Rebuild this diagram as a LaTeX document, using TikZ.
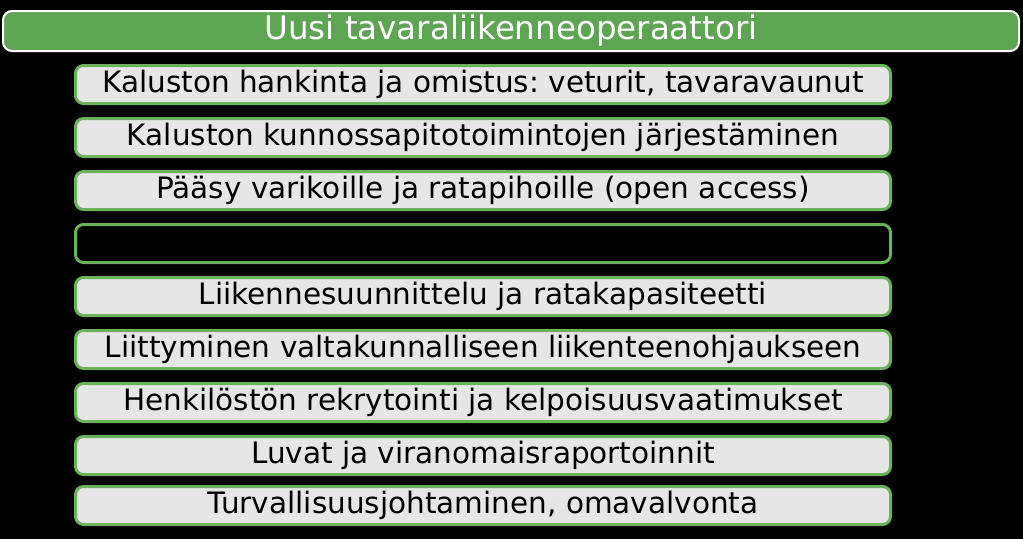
\documentclass[tikz,border=0pt]{standalone}
\usepackage{fontspec}
\setmainfont{DejaVu Sans}
\frenchspacing
\definecolor{bargreen}{RGB}{94,165,83}
\definecolor{edgegreen}{RGB}{106,178,92}
\definecolor{boxgray}{RGB}{230,230,230}
\tikzset{
  topbar/.style={draw=white, line width=2pt, fill=bargreen, rounded corners=9pt,
    minimum width=1016pt, minimum height=40pt, inner sep=0pt, text=white,
    font=\fontsize{32.5}{36}\selectfont},
  itembox/.style={draw=edgegreen, line width=3pt, fill=boxgray, rounded corners=8pt,
    minimum width=815pt, minimum height=38pt, inner sep=0pt, text=black,
    font=\fontsize{29.5}{34}\selectfont},
  emptybox/.style={itembox, fill=black}
}
\begin{document}
\begin{tikzpicture}[x=1pt,y=-1pt]
\useasboundingbox (0,0) rectangle (1023,539);
\fill[black] (0,0) rectangle (1023,539);
\node[topbar] (top) at (511,31) {Uusi tavaraliikenneoperaattori};
\node[itembox] (b1) at (483,84.5) {Kaluston hankinta ja omistus: veturit, tavaravaunut};
\node[itembox] (b2) at (483,137.5) {Kaluston kunnossapitotoimintojen järjestäminen};
\node[itembox] (b3) at (483,190.5) {Pääsy varikoille ja ratapihoille (open access)};
\node[emptybox] (b4) at (483,243.5) {};
\node[itembox] (b5) at (483,296.5) {Liikennesuunnittelu ja ratakapasiteetti};
\node[itembox] (b6) at (483,349.5) {Liittyminen valtakunnalliseen liikenteenohjaukseen};
\node[itembox] (b7) at (483,402.5) {Henkilöstön rekrytointi ja kelpoisuusvaatimukset};
\node[itembox] (b8) at (483,455.5) {Luvat ja viranomaisraportoinnit};
\node[itembox] (b9) at (483,505.5) {Turvallisuusjohtaminen, omavalvonta};
\end{tikzpicture}
\end{document}
